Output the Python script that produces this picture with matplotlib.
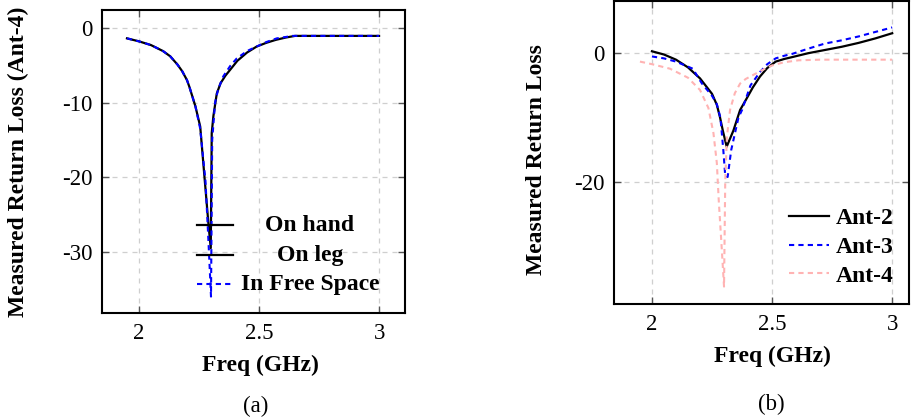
import matplotlib
matplotlib.use("Agg")
import matplotlib.pyplot as plt

# ---- data ----
# (a) Ant-4 measured in different environments
freq_hand = [1.95, 2.0, 2.05, 2.1, 2.13, 2.16, 2.18, 2.2, 2.21, 2.235, 2.255,
             2.275, 2.29, 2.299, 2.303, 2.31, 2.324, 2.34, 2.36, 2.38, 2.41,
             2.45, 2.49, 2.53, 2.57, 2.61, 2.65, 3.0]
rl_hand = [-1.4, -1.8, -2.3, -3.1, -3.8, -4.9, -5.8, -7.0, -7.9, -10.5, -13.2,
           -20.8, -26.5, -29.5, -14.1, -11.8, -8.8, -7.4, -6.4, -5.6, -4.4,
           -3.3, -2.5, -2.0, -1.6, -1.3, -1.07, -1.07]

freq_free = [1.95, 2.0, 2.05, 2.1, 2.13, 2.16, 2.18, 2.2, 2.21, 2.235, 2.255,
             2.277, 2.29, 2.3, 2.305, 2.317, 2.33, 2.351, 2.38, 2.407, 2.45,
             2.49, 2.53, 2.574, 2.64, 3.0]
rl_free = [-1.4, -1.8, -2.3, -3.1, -3.8, -4.9, -5.8, -7.0, -7.9, -10.5, -13.5,
           -20.5, -29.0, -36.0, -15.0, -10.0, -8.2, -6.5, -5.1, -4.1, -3.1,
           -2.5, -1.9, -1.4, -1.07, -1.07]

legend_a = ["On hand", "On leg", "In Free Space"]

# (b) comparison of antennas
freq_ant2 = [2.0, 2.05, 2.1, 2.15, 2.2, 2.25, 2.27, 2.283, 2.295, 2.311, 2.339,
             2.367, 2.39, 2.42, 2.45, 2.48, 2.515, 2.55, 2.584, 2.65, 2.72,
             2.79, 2.86, 2.93, 3.0]
rl_ant2 = [0.3, -0.2, -1.0, -2.2, -3.9, -6.3, -8.0, -9.9, -12.0, -14.5, -12.0,
           -8.8, -7.3, -5.3, -3.6, -2.3, -1.3, -0.9, -0.6, 0.0, 0.5,
           1.0, 1.6, 2.3, 3.1]

freq_ant3 = [2.0, 2.05, 2.1, 2.17, 2.208, 2.25, 2.27, 2.285, 2.297, 2.305,
             2.315, 2.33, 2.36, 2.375, 2.41, 2.45, 2.48, 2.515, 2.55, 2.584,
             2.65, 2.72, 2.79, 2.86, 2.93, 3.0]
rl_ant3 = [-0.5, -0.8, -1.3, -2.4, -4.7, -6.6, -7.9, -10.0, -15.0, -19.0,
           -19.2, -15.0, -10.0, -8.8, -5.0, -2.9, -1.7, -0.8, -0.4, -0.1,
           0.7, 1.5, 2.0, 2.6, 3.3, 4.0]

freq_ant4 = [1.95, 2.0, 2.075, 2.15, 2.2, 2.235, 2.256, 2.27, 2.278, 2.29, 2.3,
             2.305, 2.312, 2.325, 2.345, 2.367, 2.39, 2.42, 2.46, 2.5, 2.55,
             2.61, 2.7, 3.0]
rl_ant4 = [-1.3, -1.7, -2.4, -3.8, -5.7, -8.5, -12.4, -17.0, -22.8, -30.0,
           -36.2, -20.0, -13.0, -8.8, -6.2, -4.7, -4.0, -3.4, -2.6, -1.9,
           -1.4, -1.1, -1.0, -1.0]

xticks = [2, 2.5, 3]
xtick_labels = ["2", "2.5", "3"]

plt.rcParams['font.family'] = ['Liberation Serif', 'DejaVu Serif']
plt.rcParams['axes.unicode_minus'] = False

W, H = 911, 419
fig = plt.figure(figsize=(W / 100, H / 100), dpi=100)

def px_axes(left, top, right, bottom):
    return fig.add_axes([left / W, 1 - bottom / H, (right - left) / W, (bottom - top) / H])

def style(ax, yticks):
    ax.set_xticks(xticks)
    ax.set_xticklabels(xtick_labels)
    ax.set_yticks(yticks)
    ax.set_yticklabels([str(v) for v in yticks])
    ax.tick_params(direction='in', length=5, width=1, color='#555555',
                   top=True, right=True, labelsize=16.5, pad=7)
    ax.grid(True, color='#cfcfcf', linestyle=(0, (4, 4)), linewidth=0.9)
    ax.set_axisbelow(True)
    for s in ax.spines.values():
        s.set_linewidth(1.5)
        s.set_color('black')

BOLD = dict(fontsize=17, fontweight='bold')
blue_dash = (0, (2.5, 2.0))

# ---------- (a) ----------
ax1 = px_axes(102, 10, 405, 313)
ax1.plot(freq_hand, rl_hand, color='black', lw=1.6)
ax1.plot(freq_free, rl_free, color='blue', lw=1.5, linestyle=blue_dash)
ax1.set_xlim(1.846, 3.108)
ax1.set_ylim(-38.2, 2.4)
style(ax1, [0, -10, -20, -30])

# legend drawn by hand so the labels can be centred like the original
rows = [0.290, 0.191, 0.0957]
styles = [dict(color='black', lw=1.6),
          dict(color='black', lw=1.6),
          dict(color='blue', lw=1.5, linestyle=blue_dash)]
for y, lab, st in zip(rows, legend_a, styles):
    ax1.plot([0.3135, 0.432], [y, y], transform=ax1.transAxes, clip_on=False, **st)
    ax1.text(0.686, y, lab, transform=ax1.transAxes, ha='center', va='center', **BOLD)

fig.text(18 / W, 1 - 162 / H, "Measured Return Loss (Ant-4)", rotation=90,
         ha='center', va='center', **BOLD)
fig.text(260 / W, 1 - 365 / H, "Freq (GHz)", ha='center', va='center', **BOLD)
fig.text(256 / W, 1 - 406 / H, "(a)", ha='center', va='center', fontsize=16.5)

# ---------- (b) ----------
ax2 = px_axes(614, 1, 909, 304)
ax2.plot(freq_ant2, rl_ant2, color='black', lw=1.6, label='Ant-2')
ax2.plot(freq_ant3, rl_ant3, color='blue', lw=1.5, linestyle=blue_dash, label='Ant-3')
ax2.plot(freq_ant4, rl_ant4, color='#ffb3b3', lw=1.5, linestyle=blue_dash, label='Ant-4')
ax2.set_xlim(1.842, 3.07)
ax2.set_ylim(-38.9, 8.1)
style(ax2, [0, -20])
leg = ax2.legend(loc='lower right', bbox_to_anchor=(1.02, -0.013), frameon=False,
                 handlelength=1.7, handletextpad=0.3, labelspacing=0.3,
                 prop=dict(family='Liberation Serif', weight='bold', size=17))

fig.text(537 / W, 1 - 160 / H, "Measured Return Loss", rotation=90,
         ha='center', va='center', **BOLD)
fig.text(772 / W, 1 - 356 / H, "Freq (GHz)", ha='center', va='center', **BOLD)
fig.text(771 / W, 1 - 404 / H, "(b)", ha='center', va='center', fontsize=16.5)

fig.savefig("out.png", dpi=100)
